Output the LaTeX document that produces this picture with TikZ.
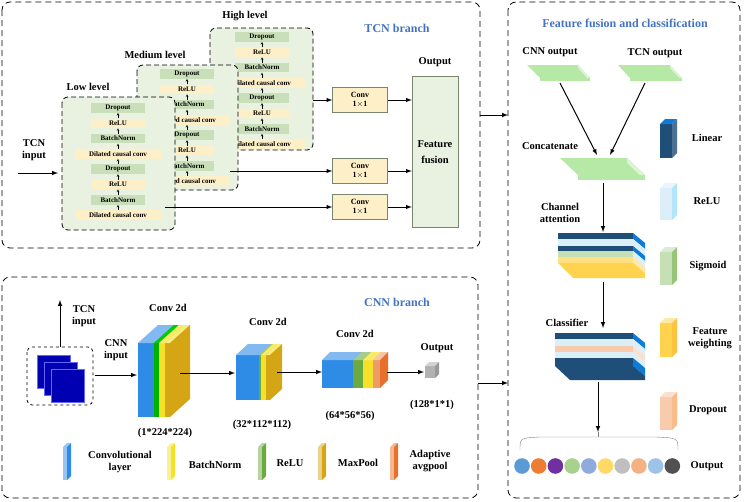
\documentclass[tikz,border=0pt]{standalone}
\usepackage{fontspec}
\setmainfont{Liberation Serif}
\usetikzlibrary{positioning}
\definecolor{lvg}{HTML}{C9DFB9}
\definecolor{lvy}{HTML}{FDEFC8}
\definecolor{boxg}{HTML}{E9F1E1}
\definecolor{ttl}{HTML}{4472C4}
\definecolor{cblue}{HTML}{2E8BE6}
\definecolor{cgreen}{HTML}{6AAA3E}
\definecolor{cyel}{HTML}{F6E12A}
\definecolor{cgold}{HTML}{D4A514}
\definecolor{corange}{HTML}{E7702A}
\definecolor{dblue}{HTML}{1F4E79}
\definecolor{sblue}{HTML}{0F7AD8}
\definecolor{lblue}{HTML}{DCEEF8}
\definecolor{lgreen}{HTML}{C5E0B4}
\definecolor{fyel}{HTML}{FFD34D}
\definecolor{peach}{HTML}{F8CBAD}
\definecolor{slab}{HTML}{B6E8A6}
\tikzset{
  layer/.style={fill=#1,inner sep=0pt,minimum height=9.5pt,font=\bfseries\fontsize{7}{7}\selectfont},
  branch/.style={draw,dashed,rounded corners=8pt,line width=0.8pt,dash pattern=on 6pt off 4pt},
  levelbox/.style={fill=boxg,draw,dashed,rounded corners=6pt,line width=0.8pt,dash pattern=on 5pt off 3pt},
  conv/.style={fill=lvy,draw=lvg!60!black,thin,minimum width=55pt,minimum height=25pt,align=center,font=\bfseries\fontsize{8}{9}\selectfont},
  lbl/.style={font=\bfseries\fontsize{10.5}{12}\selectfont,align=center},
  ttlstyle/.style={font=\bfseries\fontsize{12}{13}\selectfont,text=ttl},
  arr/.style={-latex,line width=1pt},
}
% one stack of TCN layers
\newcommand{\levelstack}[3]{%
  \foreach \t/\c/\w [count=\i] in {Dropout/lvg/54,ReLU/lvy/54,BatchNorm/lvg/54,Dilated causal conv/lvy/86,Dropout/lvg/54,ReLU/lvy/54,BatchNorm/lvg/54,Dilated causal conv/lvy/86}
    \node[layer=\c,minimum width=\w pt] (#3\i) at (#1,{#2+(\i-1)*15.3}) {\t};
  \foreach \i [evaluate=\i as \j using int(\i+1)] in {1,...,7}
    \draw[->,>=stealth,very thin] (#3\j.north) -- (#3\i.south);
}
% front/top/side of a box
\newcommand{\cube}[9]{%
  \fill[#7] (#1,#2) rectangle (#3,#4);
  \fill[#8] (#1,#2) -- ++(#5,-#6) -- (#3+#5,#2-#6) -- (#3,#2) -- cycle;
  \fill[#9] (#3,#2) -- (#3+#5,#2-#6) -- (#3+#5,#4-#6) -- (#3,#4) -- cycle;
}
% stripe of a stack seen from above
\newcommand{\stripe}[5]{%
  \fill[#4] (#1,#2) rectangle (633,#3);
  \fill[#5] (633,#2) -- (645,#2+10) -- (645,#3+10) -- (633,#3) -- cycle;
}
\begin{document}
\begin{tikzpicture}[x=1pt,y=-1pt]
  \useasboundingbox (0,0) rectangle (744,501);
  % branch frames
  \draw[branch] (2,2) rectangle (480,248);
  \draw[branch] (2,277) rectangle (478,498);
  \draw[branch] (508,2) rectangle (740,498);
  \node[ttlstyle] (tcnttl) at (397,28) {TCN branch};
  \node[ttlstyle] (cnnttl) at (397,302) {CNN branch};
  \node[ttlstyle] (fusttl) at (625,23) {Feature fusion and classification};

  %% TCN branch
  \draw[levelbox] (210,28) rectangle (313,150);
  \node[lbl] (hl) at (245,16) {High level};
  \levelstack{262}{37}{h}
  \draw[levelbox] (137,65) rectangle (238,190);
  \node[lbl] (ml) at (155,55) {Medium level};
  \levelstack{187}{74}{m}
  \draw[levelbox] (62,97) rectangle (175,230);
  \node[lbl] (ll) at (88,87) {Low level};
  \levelstack{118}{108}{l}

  \node[lbl] (tcnin) at (34,150) {TCN\\input};
  \coordinate (tcnst) at (18,173);
  \draw[arr] (tcnst) -- (58,173);

  \node[conv] (c1) at (360,100) {Conv\\1$\times$1};
  \node[conv] (c2) at (360,171) {Conv\\1$\times$1};
  \node[conv] (c3) at (360,207) {Conv\\1$\times$1};
  \node[fill=boxg,draw=lvg!60!black,minimum width=46pt,minimum height=151pt,lbl] (ff) at (435,152) {Feature\\[4pt]fusion};
  \node[lbl] (tout) at (435,62) {Output};
  \draw[arr] (313,100) -- (c1);
  \draw[arr] (230,171) -- (c2);
  \draw[arr] (165,207) -- (c3);
  \foreach \c in {c1,c2,c3}
    \draw[arr] (\c.east) -- (\c.east -| ff.west);
  \draw[arr] (480,115) -- (508,115);
  \draw[arr] (478,383) -- (508,383);

  %% CNN branch
  \draw[dashed,rounded corners=5pt,line width=0.8pt] (27,347) rectangle (93,405);
  \foreach \d in {0,7,14}
    \fill[blue!70!black,draw=blue!60] (37+\d,355+\d) rectangle (70+\d,388+\d);
  \coordinate (imtop) at (60,347);
  \draw[arr] (imtop) -- (60,300);
  \node[lbl] (tcnin2) at (84,316) {TCN\\input};
  \node[lbl] (cnnin) at (116,350) {CNN\\input};
  \draw[arr] (95,375) -- (137,375);
  \cube{138}{343}{154}{417}{20}{18}{cblue}{cblue!60}{cblue}
  \cube{154}{343}{159}{417}{20}{18}{green!70!black}{green!80!black}{green}
  \cube{159}{343}{165}{417}{20}{18}{cyel}{cyel!70}{cyel}
  \cube{165}{343}{170}{417}{20}{18}{cgold}{cyel!60}{cgold}
  \node[lbl] (cv1) at (168,308) {Conv 2d};
  \node[lbl] (d1) at (165,433) {(1*224*224)};
  \draw[arr] (180,373) -- (235,373);
  \cube{236}{355}{259}{400}{12}{11}{cblue}{cblue!60}{cblue}
  \cube{259}{355}{261}{400}{12}{11}{cgreen}{cgreen!60}{cgreen}
  \cube{261}{355}{266}{400}{12}{11}{cyel}{cyel!70}{cyel}
  \cube{266}{355}{270}{400}{12}{11}{cgold}{cyel!60}{cgold}
  \node[lbl] (cv2) at (268,322) {Conv 2d};
  \node[lbl] (d2) at (262,425) {(32*112*112)};
  \draw[arr] (277,372) -- (322,372);
  \cube{322}{360}{353}{388}{8}{8}{cblue}{cblue!60}{cblue}
  \cube{353}{360}{363}{388}{8}{8}{cgreen}{cgreen!60}{cgreen}
  \cube{363}{360}{373}{388}{8}{8}{cyel}{cyel!70}{cyel}
  \cube{373}{360}{380}{388}{8}{8}{corange!70}{corange!40}{corange}
  \node[lbl] (cv3) at (355,334) {Conv 2d};
  \node[lbl] (d3) at (350,416) {(64*56*56)};
  \draw[arr] (387,372) -- (424,372);
  \cube{425}{366}{435}{378}{4}{4}{gray!60}{gray!35}{gray!80}
  \node[lbl] (cout) at (437,348) {Output};
  \node[lbl] (d4) at (432,405) {(128*1*1)};
  % legend
  \foreach \x/\c in {63/cblue,167/cyel,258/cgreen,318/cgold,390/corange}
    \cube{\x}{447}{\x+4}{480}{4}{4}{\c!50}{\c!50}{\c};
  \node[lbl] (lg1) at (120,462) {Convolutional\\layer};
  \node[lbl] (lg2) at (215,465) {BatchNorm};
  \node[lbl] (lg3) at (290,463) {ReLU};
  \node[lbl] (lg4) at (358,463) {MaxPool};
  \node[lbl] (lg5) at (430,461) {Adaptive\\avgpool};

  %% fusion and classification
  \node[lbl] (cnnout) at (550,52) {CNN output};
  \node[lbl] (tcnout) at (655,53) {TCN output};
  \fill[slab] (527,65) -- (578,65) -- (590,78) -- (540,78) -- cycle;
  \fill[slab!50] (578,65) -- (590,78) -- (590,81) -- (578,68) -- cycle;
  \fill[slab] (540,78) rectangle (590,81);
  \fill[slab] (618,65) -- (670,65) -- (682,78) -- (630,78) -- cycle;
  \fill[slab!50] (670,65) -- (682,78) -- (682,81) -- (670,68) -- cycle;
  \fill[slab] (630,78) rectangle (682,81);
  \fill[slab] (560,158) -- (627,158) -- (645,175) -- (578,175) -- cycle;
  \fill[slab!50] (627,158) -- (645,175) -- (645,180) -- (627,163) -- cycle;
  \fill[slab] (578,175) rectangle (645,180);
  \coordinate (s1) at (560,83);
  \coordinate (s2) at (645,83);
  \draw[arr] (s1) -- (597,155);
  \draw[arr] (s2) -- (610,155);
  \node[lbl] (concat) at (550,146) {Concatenate};
  \draw[arr] (603,183) -- (603,232);
  \node[lbl] (chatt) at (560,213) {Channel\\attention};
  \stripe{558}{233}{239}{dblue}{sblue}
  \stripe{558}{239}{246}{lblue}{lblue}
  \stripe{558}{246}{251}{dblue}{sblue}
  \stripe{558}{251}{257}{lgreen}{lblue}
  \stripe{558}{257}{263}{fyel!70}{fyel!50}
  \fill[fyel] (558,263) -- (633,263) -- (645,273) -- (645,278) -- (573,278) -- cycle;
  \draw[arr] (603,282) -- (603,328);
  \node[lbl] (clsf) at (567,323) {Classifier};
  \stripe{555}{333}{339}{dblue}{sblue}
  \stripe{555}{339}{346}{lblue}{lblue}
  \stripe{555}{346}{352}{peach}{peach!60}
  \stripe{555}{352}{358}{lblue}{lblue}
  \stripe{555}{358}{366}{dblue}{sblue}
  \fill[dblue] (555,366) -- (633,366) -- (645,376) -- (645,380) -- (570,380) -- cycle;
  \draw[arr] (598,382) -- (598,432);
  \draw[gray,thin] (598,432) -- (598,437);
  \draw[gray,thin] (520,450) .. controls (520,438) .. (540,437) -- (656,437) .. controls (678,438) .. (678,450);
  \foreach \c [count=\i] in {5B9BD5,ED7D31,7030A0,A9D18E,8FAADC,FFD966,BFBFBF,F4B183,9DC3E6,505050}{
    \definecolor{dot}{HTML}{\c}
    \fill[dot] ({522+(\i-1)*16.7},466) circle (7.8);
  }
  \node[lbl] (fout) at (707,466) {Output};
  % right legend
  \cube{660}{124}{672}{158}{5}{5}{dblue}{sblue}{dblue!80}
  \node[lbl] (lgl) at (707,138) {Linear};
  \cube{660}{188}{672}{220}{5}{5}{lblue}{lblue!60}{cyan!30}
  \node[lbl] (lgr) at (707,201) {ReLU};
  \cube{660}{252}{672}{285}{5}{5}{lgreen}{lgreen!60}{cgreen!70}
  \node[lbl] (lgs) at (708,266) {Sigmoid};
  \cube{660}{323}{672}{357}{5}{5}{fyel}{fyel!50}{fyel!80!orange}
  \node[lbl] (lgf) at (710,338) {Feature\\weighting};
  \cube{660}{397}{672}{430}{5}{5}{peach}{peach!60}{peach!80!orange}
  \node[lbl] (lgd) at (708,410) {Dropout};
\end{tikzpicture}
\end{document}
